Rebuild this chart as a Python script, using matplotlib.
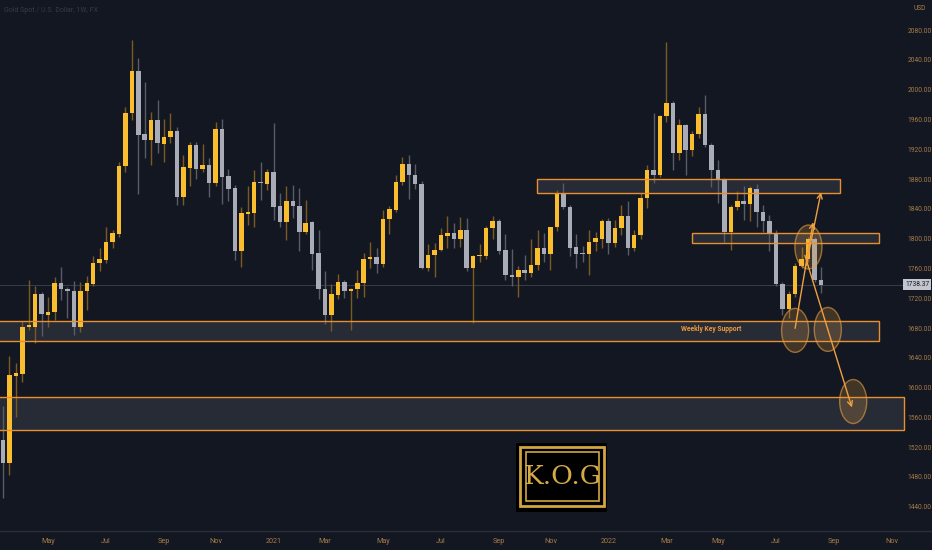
import numpy as np
import pandas as pd
import matplotlib
matplotlib.use('Agg')
import matplotlib.pyplot as plt
from matplotlib.patches import Rectangle, Ellipse
import matplotlib.transforms as mtransforms

# weekly gold candles (week of 16 Mar 2020 onwards)
opens = [1530, 1499, 1615, 1618, 1681, 1682, 1725, 1698, 1702, 1741,
         1733, 1730, 1682, 1729, 1739, 1767, 1771, 1795, 1806, 1897,
         1968, 2025, 1940, 1932, 1959, 1927, 1936, 1944, 1856, 1895,
         1926, 1893, 1899, 1874, 1947, 1884, 1868, 1783, 1833, 1835,
         1876, 1873, 1890, 1844, 1822, 1851, 1844, 1809, 1822, 1781,
         1732, 1698, 1724, 1742, 1730, 1733, 1741, 1772, 1775, 1766,
         1826, 1839, 1876, 1900, 1886, 1873, 1761, 1778, 1785, 1804,
         1808, 1799, 1811, 1760, 1776, 1777, 1814, 1824, 1785, 1751,
         1748, 1758, 1754, 1765, 1788, 1779, 1815, 1861, 1843, 1789,
         1781, 1780, 1795, 1799, 1824, 1794, 1814, 1830, 1788, 1805,
         1854, 1892, 1885, 1964, 1982, 1915, 1952, 1919, 1940, 1967,
         1926, 1892, 1879, 1809, 1842, 1850, 1847, 1866, 1836, 1823,
         1807, 1739, 1705, 1725, 1763, 1772, 1800, 1744]
highs = [1575, 1642, 1633, 1689, 1745, 1736, 1728, 1722, 1749, 1762,
         1735, 1743, 1742, 1750, 1776, 1787, 1816, 1812, 1903, 1977,
         2067, 2043, 2010, 1970, 1986, 1961, 1969, 1950, 1912, 1930,
         1930, 1927, 1908, 1956, 1960, 1894, 1872, 1843, 1871, 1892,
         1903, 1894, 1955, 1861, 1871, 1872, 1868, 1852, 1824, 1812,
         1757, 1739, 1753, 1744, 1734, 1758, 1781, 1795, 1787, 1839,
         1844, 1886, 1909, 1912, 1900, 1877, 1793, 1794, 1814, 1830,
         1821, 1829, 1828, 1778, 1793, 1817, 1830, 1826, 1806, 1786,
         1763, 1778, 1799, 1812, 1807, 1816, 1865, 1874, 1845, 1806,
         1790, 1812, 1809, 1826, 1827, 1825, 1845, 1850, 1812, 1861,
         1899, 1968, 1966, 2064, 1985, 1960, 1954, 1944, 1976, 1993,
         1928, 1905, 1881, 1845, 1864, 1870, 1871, 1873, 1845, 1832,
         1812, 1742, 1729, 1767, 1789, 1802, 1802, 1762]
lows = [1452, 1483, 1561, 1608, 1677, 1660, 1669, 1681, 1691, 1718,
        1693, 1671, 1675, 1704, 1736, 1756, 1767, 1788, 1802, 1890,
        1959, 1860, 1908, 1899, 1915, 1903, 1928, 1845, 1845, 1870,
        1880, 1890, 1856, 1870, 1847, 1850, 1771, 1762, 1818, 1816,
        1852, 1865, 1825, 1815, 1798, 1828, 1783, 1806, 1758, 1719,
        1686, 1676, 1719, 1720, 1677, 1720, 1722, 1761, 1754, 1762,
        1806, 1836, 1872, 1853, 1866, 1759, 1757, 1749, 1783, 1787,
        1787, 1789, 1757, 1687, 1769, 1772, 1799, 1779, 1744, 1736,
        1721, 1745, 1748, 1758, 1769, 1758, 1810, 1840, 1776, 1760,
        1769, 1751, 1783, 1787, 1780, 1789, 1805, 1778, 1783, 1800,
        1841, 1874, 1883, 1956, 1892, 1906, 1886, 1911, 1935, 1923,
        1869, 1848, 1796, 1785, 1839, 1825, 1823, 1816, 1809, 1783,
        1736, 1698, 1693, 1722, 1760, 1769, 1742, 1727]
closes = [1499, 1617, 1620, 1682, 1684, 1725, 1699, 1702, 1741, 1733,
          1729, 1682, 1730, 1740, 1767, 1772, 1796, 1807, 1898, 1968,
          2025, 1939, 1932, 1959, 1928, 1936, 1944, 1856, 1896, 1926,
          1893, 1899, 1874, 1947, 1883, 1866, 1783, 1834, 1836, 1876,
          1874, 1890, 1843, 1822, 1851, 1844, 1809, 1821, 1780, 1732,
          1698, 1725, 1742, 1730, 1733, 1741, 1773, 1775, 1766, 1826,
          1840, 1876, 1900, 1886, 1873, 1761, 1778, 1785, 1805, 1808,
          1799, 1811, 1760, 1777, 1778, 1814, 1824, 1784, 1751, 1748,
          1758, 1754, 1765, 1788, 1780, 1815, 1861, 1842, 1788, 1780,
          1779, 1795, 1801, 1824, 1794, 1814, 1830, 1788, 1805, 1854,
          1892, 1885, 1964, 1982, 1915, 1952, 1919, 1940, 1967, 1926,
          1892, 1879, 1809, 1842, 1850, 1847, 1868, 1836, 1823, 1807,
          1739, 1705, 1725, 1763, 1772, 1800, 1745, 1738.37]

month_labels = ['May', 'Jul', 'Sep', 'Nov', '2021', 'Mar', 'May', 'Jul',
                'Sep', 'Nov', '2022', 'Mar', 'May', 'Jul', 'Sep', 'Nov']
month_starts = ['2020-05', '2020-07', '2020-09', '2020-11', '2021-01', '2021-03',
                '2021-05', '2021-07', '2021-09', '2021-11', '2022-01', '2022-03',
                '2022-05', '2022-07', '2022-09', '2022-11']
price_ticks = np.arange(1440, 2081, 40)
last_price = 1738.37

# drawn zones: (low, high)
zone_top = (1861, 1880)
zone_mid = (1794, 1807)
zone_support = (1662, 1690)
zone_lower = (1543, 1587)

BG = '#131722'
BULL = '#f9bd2e'
BEAR = '#a9acb6'
ORANGE = '#e8902e'
AXIS_TXT = '#a87c48'
NARROW = ['Roboto', 'DejaVu Sans']

o = np.array(opens, dtype=float)
h = np.array(highs, dtype=float)
l = np.array(lows, dtype=float)
c = np.array(closes, dtype=float)
idx = np.arange(len(o))
up = c >= o

fig = plt.figure(figsize=(9.32, 5.5), dpi=100, facecolor=BG)
ax = fig.add_axes([0, 19 / 550, 906 / 932, 531 / 550], facecolor=BG)
ax.set_xlim(-0.47, 140.2)
ax.set_ylim(1407.5, 2120.3)

# zones
def zone(x0, x1, lohi):
    ax.add_patch(Rectangle((x0, lohi[0]), x1 - x0, lohi[1] - lohi[0],
                           facecolor='#363a45', alpha=0.6, edgecolor='none', zorder=1))
    ax.add_patch(Rectangle((x0, lohi[0]), x1 - x0, lohi[1] - lohi[0],
                           facecolor='none', edgecolor=ORANGE, lw=1.0, zorder=4))

zone(82.9, 130.0, zone_top)
zone(107.0, 136.0, zone_mid)
zone(-2, 136.0, zone_support)
zone(-2, 139.9, zone_lower)

# last price line
ax.axhline(last_price, color='#3a3e4a', lw=0.7, zorder=1.5)

# candles
ax.vlines(idx[up], l[up], h[up], colors='#7a5a22', lw=1.0, zorder=2)
ax.vlines(idx[~up], l[~up], h[~up], colors='#595c67', lw=1.0, zorder=2)
body_lo = np.minimum(o, c)
body_h = np.maximum(np.abs(c - o), 1.6)
ax.bar(idx[up], body_h[up], bottom=body_lo[up], width=0.7, color=BULL, zorder=3)
ax.bar(idx[~up], body_h[~up], bottom=body_lo[~up], width=0.7, color=BEAR, zorder=3)

# circles and arrows
for cx, cy in [(122.98, 1676.8), (128.06, 1678.1), (132.0, 1581.3), (125.05, 1788.7)]:
    ax.add_patch(Ellipse((cx, cy), 4.2, 59, facecolor='#e8a040', alpha=0.22,
                         edgecolor='none', zorder=5))
    ax.add_patch(Ellipse((cx, cy), 4.2, 59, facecolor='none', edgecolor='#e8a040',
                         alpha=0.6, lw=1.0, zorder=5))

arrow_kw = dict(arrowstyle='->', color='#f0a040', lw=1.0, shrinkA=0, shrinkB=0,
                mutation_scale=9)
ax.annotate('', xy=(125.78, 1822), xytext=(122.98, 1679.5), arrowprops=arrow_kw, zorder=6)
ax.annotate('', xy=(127.0, 1862.3), xytext=(124.7, 1764), arrowprops=arrow_kw, zorder=6)
ax.annotate('', xy=(131.8, 1573.3), xytext=(124.5, 1777.6), arrowprops=arrow_kw, zorder=6)

ax.text(105.3, 1678.7, 'Weekly Key Support', color='#eb9a3c', fontsize=4.9,
        fontweight='bold', family=NARROW, ha='left', va='center', zorder=6)

# axes styling
for s in ax.spines.values():
    s.set_visible(False)
ext = pd.date_range('2020-03-16', periods=160, freq='W-MON')
tick_pos = [int(np.searchsorted(ext, pd.Timestamp(m + '-01'))) for m in month_starts]
ax.set_xticks(tick_pos)
ax.set_xticklabels(month_labels, family=NARROW, fontsize=5.2, color=AXIS_TXT)
ax.yaxis.tick_right()
ax.set_yticks(price_ticks)
ax.set_yticklabels(['%.2f' % p for p in price_ticks], family=NARROW, fontsize=4.8,
                   color=AXIS_TXT)
ax.tick_params(axis='x', length=0, pad=5)
ax.tick_params(axis='y', length=0, pad=1.2)

trans = mtransforms.blended_transform_factory(ax.transAxes, ax.transData)
ax.text(0.999, last_price, '1738.37', transform=trans, ha='left', va='center',
        fontsize=4.8, family=NARROW, color='#131722', zorder=8,
        bbox=dict(boxstyle='square,pad=0.25', facecolor='#c3c6ce', edgecolor='none'))
ax.text(1.008, 2109.5, 'USD', transform=trans, ha='left', va='center',
        fontsize=4.8, family=NARROW, color=AXIS_TXT)

fig.add_artist(plt.Line2D([0, 1], [19 / 550, 19 / 550], color='#2a2e39', lw=1.0))
fig.text(4 / 932, 1 - 11 / 550, 'Gold Spot / U.S. Dollar, 1W, FX', fontsize=5.0,
         family=NARROW, color='#363a46', va='center', ha='left')

# K.O.G logo
def frac(x, y):
    return x / 932, 1 - y / 550

x0, y0 = frac(516, 512)
fig.add_artist(Rectangle((x0, y0), 91 / 932, 69 / 550, transform=fig.transFigure,
                         facecolor='black', edgecolor='none'))
x0, y0 = frac(520, 506)
fig.add_artist(Rectangle((x0, y0), 84 / 932, 59 / 550, transform=fig.transFigure,
                         facecolor='none', edgecolor='#d1a640', lw=2.0))
x0, y0 = frac(525.5, 501)
fig.add_artist(Rectangle((x0, y0), 73 / 932, 49 / 550, transform=fig.transFigure,
                         facecolor='none', edgecolor='#d1a640', lw=1.2))
tx, ty = frac(562, 477)
fig.text(tx, ty, 'K.O.G', fontsize=19, family=['DejaVu Serif'],
         color='#d6ab45', ha='center', va='center')

fig.savefig('out.png', dpi=100, facecolor=BG)
